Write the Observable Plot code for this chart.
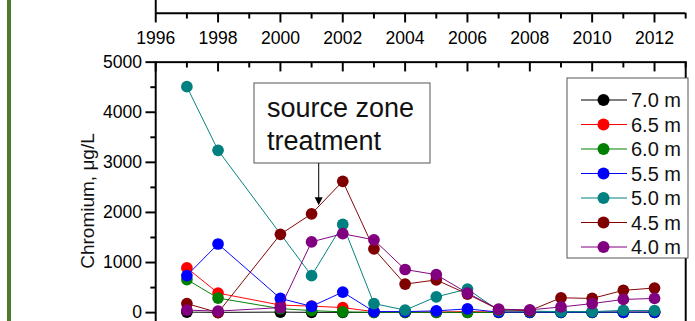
<!DOCTYPE html>
<html><head><meta charset="utf-8">
<script src="https://cdn.jsdelivr.net/npm/d3@7"></script>
<script src="https://cdn.jsdelivr.net/npm/@observablehq/plot@0.6"></script>
<style>
html,body{margin:0;padding:0;background:#fff;overflow:hidden;width:695px;height:321px;}
#wrap{position:relative;width:695px;height:321px;overflow:hidden;font-family:"Liberation Sans",Arial,sans-serif;}
#bar{position:absolute;left:7px;top:0;width:4px;height:321px;background:#4e7a2f;}
#top,#main{position:absolute;left:0;}
#top{top:0}
#main{top:48px}
#over{position:absolute;left:0;top:0;}
svg text{font-family:"Liberation Sans",Arial,sans-serif;}
</style></head><body>
<div id="wrap"><div id="bar"></div><div id="top"></div><div id="main"></div><svg id="over" width="695" height="321"></svg></div>
<script>
// ---- data ----
const years  = [1997,1998,2000,2001,2002,2003,2004,2005,2006,2007,2008,2009,2010,2011,2012];
const depths = ["7.0 m","6.5 m","6.0 m","5.5 m","5.0 m","4.5 m","4.0 m"];
const colors = ["#000000","#ff0000","#008000","#0000ff","#008080","#800000","#800080"];
const cr70 = [10,5,10,5,5,5,5,5,5,5,5,5,5,5,5];
const cr65 = [893,390,150,130,100,20,10,10,20,10,10,10,10,10,10];
const cr60 = [660,290,80,40,15,5,5,5,5,5,5,5,5,5,5];
const cr55 = [740,1370,283,125,410,20,20,35,75,10,10,10,10,10,10];
const cr50 = [4510,3240,null,737,1760,180,50,315,470,40,30,20,20,45,40];
const cr45 = [180,0,1563,1973,2622,1271,569,653,370,60,40,296,283,445,491];
const cr40 = [50,30,100,1413,1575,1452,861,757,390,68,55,113,180,263,283];
const seriesValues = [cr70,cr65,cr60,cr55,cr50,cr45,cr40];
const xDomain = [1996, 2013];
const yDomain = [-300, 5000];
const xMajor = [1996,1998,2000,2002,2004,2006,2008,2010,2012];
const xMinor = [1997,1999,2001,2003,2005,2007,2009,2011,2013];
const yMajor = [0,1000,2000,3000,4000,5000];
const yMinor = [500,1500,2500,3500,4500];
const yLabel = "Chromium, μg/L";
const annotationLines = ["source zone","treatment"];
const annotationYear = 2001;
const annotationSeries = "4.5 m";

const series = depths.map((d,i) => ({
  depth: d,
  data: years.map((y,j) => ({year: y, value: seriesValues[i][j], depth: d})).filter(r => r.value != null)
}));

// ---- upper panel (bottom axis with labels) ----
const topPlot = Plot.plot({
  width: 712, height: 48, marginLeft: 159, marginRight: 10, marginTop: 0, marginBottom: 35,
  x: {domain: xDomain},
  y: {domain: [0,1], axis: null},
  marks: [
    Plot.ruleY([0], {strokeWidth: 2}),
    Plot.ruleX([xDomain[0]], {strokeWidth: 2}),
    Plot.axisX(xMajor, {tickSize: 10, tickPadding: 9, strokeWidth: 2, fontSize: 18, label: null, tickFormat: d => String(d)}),
    Plot.axisX(xMinor, {tickSize: 6, strokeWidth: 2, label: null, tickFormat: () => ""})
  ]
});
document.getElementById("top").appendChild(topPlot);

// ---- main panel ----
const mainH = 286, mainMT = 14;
const frameH = mainH - mainMT;
const unitsPerPx = (yDomain[1] - yDomain[0]) / frameH;
const topTop = yDomain[1];
const seriesMarks = series.flatMap(s => [
  Plot.line(s.data, {x: "year", y: "value", stroke: "depth", strokeWidth: 1}),
  Plot.dot(s.data, {x: "year", y: "value", fill: "depth", r: 6})
]);
const main = Plot.plot({
  width: 712, height: mainH, marginLeft: 159, marginRight: 10, marginTop: mainMT, marginBottom: 0,
  x: {domain: xDomain, axis: null},
  y: {domain: yDomain},
  color: {domain: depths, range: colors},
  marks: [
    Plot.frame({strokeWidth: 2}),
    Plot.ruleX(xMajor, {x: d => d, y1: topTop, y2: topTop - 10 * unitsPerPx, strokeWidth: 2}),
    Plot.ruleX(xMinor, {x: d => d, y1: topTop, y2: topTop - 6 * unitsPerPx, strokeWidth: 2}),
    Plot.axisY(yMajor, {tickSize: 10, tickPadding: 4, strokeWidth: 2, fontSize: 18, tickFormat: d => String(d), label: null}),
    Plot.axisY(yMinor, {tickSize: 5, strokeWidth: 2, label: null, tickFormat: () => ""}),
    ...seriesMarks
  ]
});
document.getElementById("main").appendChild(main);

// ---- overlay: y label, legend, annotation ----
const over = d3.select("#over");
const mainTop = 48;
const xs = main.scale("x"), ys = main.scale("y");

over.append("text").attr("transform", "translate(87,201) rotate(-90)")
  .attr("text-anchor", "middle").attr("dy", "0.35em").attr("font-size", 19).attr("fill", "#111").text(yLabel);

// legend
const lg = over.append("g");
lg.append("rect").attr("x", 567).attr("y", 78).attr("width", 121).attr("height", 180)
  .attr("fill", "#fff").attr("stroke", "#555").attr("stroke-width", 1);
depths.forEach((d, i) => {
  const cy = 100 + i * 24.5;
  lg.append("line").attr("x1", 581).attr("x2", 627).attr("y1", cy).attr("y2", cy)
    .attr("stroke", colors[i]).attr("stroke-width", 1);
  lg.append("circle").attr("cx", 603.5).attr("cy", cy).attr("r", 6).attr("fill", colors[i]);
  lg.append("text").attr("x", 631).attr("y", cy).attr("dy", "0.35em")
    .attr("font-size", 20).attr("fill", "#111").text(d);
});

// annotation
const ax = xs.apply(annotationYear);
const sIdx = depths.indexOf(annotationSeries);
const target = seriesValues[sIdx][years.indexOf(annotationYear)];
const tipY = ys.apply(target) + mainTop - 12;
const ag = over.append("g");
ag.append("rect").attr("x", 254).attr("y", 83).attr("width", 176).attr("height", 80)
  .attr("fill", "#fff").attr("stroke", "#555").attr("stroke-width", 1);
annotationLines.forEach((t, i) => {
  ag.append("text").attr("x", 267).attr("y", 117 + i * 33).attr("font-size", 27).attr("fill", "#111").text(t);
});
ag.append("line").attr("x1", ax).attr("x2", ax).attr("y1", 163).attr("y2", tipY - 6)
  .attr("stroke", "#000").attr("stroke-width", 1);
ag.append("path").attr("d", `M${ax - 4},${tipY - 8}L${ax + 4},${tipY - 8}L${ax},${tipY}Z`).attr("fill", "#000");
</script>
</body></html>
